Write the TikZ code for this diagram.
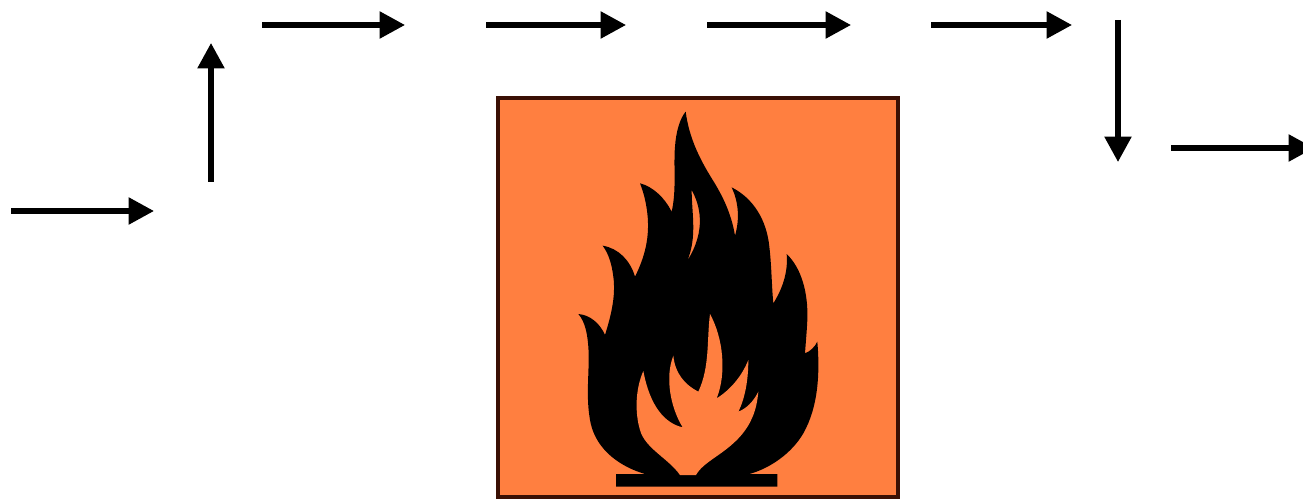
\documentclass[tikz,border=0pt]{standalone}
\usepackage{tikz}
\usetikzlibrary{arrows.meta}
\definecolor{signorange}{RGB}{255,127,64}
\definecolor{signedge}{RGB}{58,16,4}
\tikzset{flowarrow/.style={line width=3.9pt,-{Triangle[length=19pt,width=19.5pt]}}}

\begin{document}
\begin{tikzpicture}[x=0.75pt,y=-0.75pt]
\useasboundingbox (0,0) rectangle (1303,499);
\coordinate (in1) at (11,211);
\coordinate (out1) at (154,211);
\coordinate (in2) at (211,182);
\coordinate (out2) at (211,43);
\coordinate (in3) at (262,25);
\coordinate (out3) at (405,25);
\coordinate (in4) at (486,25);
\coordinate (out4) at (626,25);
\coordinate (in5) at (707,25);
\coordinate (out5) at (851,25);
\coordinate (in6) at (931,25);
\coordinate (out6) at (1072,25);
\coordinate (in7) at (1118,20);
\coordinate (out7) at (1118,162);
\coordinate (in8) at (1171,148);
\coordinate (out8) at (1314,148);
\draw [flowarrow] (in1) -- (out1);
\draw [flowarrow] (in2) -- (out2);
\draw [flowarrow] (in3) -- (out3);
\draw [flowarrow] (in4) -- (out4);
\draw [flowarrow] (in5) -- (out5);
\draw [flowarrow] (in6) -- (out6);
\draw [flowarrow] (in7) -- (out7);
\draw [flowarrow] (in8) -- (out8);
\draw [line width=3pt,signedge,fill=signorange] (498,98) rectangle (898,497);
\begin{scope}[shift={(490,90)},x=0.25pt,y=-0.25pt]
\fill [black,even odd rule] (587,65)
  .. controls (597,140) and (625,200) .. (665,265)
  .. controls (700,320) and (725,375) .. (735,437)
  .. controls (750,385) and (745,335) .. (725,292)
  .. controls (790,325) and (830,390) .. (838,470)
  .. controls (845,530) and (845,590) .. (850,640)
  .. controls (875,600) and (895,550) .. (890,492)
  .. controls (935,535) and (955,610) .. (952,690)
  .. controls (950,730) and (947,760) .. (945,790)
  .. controls (960,785) and (975,770) .. (982,755)
  .. controls (990,850) and (985,950) .. (940,1030)
  .. controls (905,1090) and (840,1135) .. (778,1152)
  -- (862,1152) -- (862,1190) -- (378,1190) -- (378,1152) -- (465,1152)
  .. controls (390,1130) and (320,1080) .. (302,1000)
  .. controls (285,920) and (300,840) .. (295,770)
  .. controls (292,730) and (285,695) .. (265,672)
  .. controls (300,675) and (330,700) .. (345,735)
  .. controls (362,680) and (378,620) .. (370,560)
  .. controls (365,520) and (355,490) .. (338,467)
  .. controls (385,475) and (420,510) .. (435,560)
  .. controls (465,500) and (480,440) .. (472,370)
  .. controls (468,335) and (460,305) .. (450,280)
  .. controls (490,290) and (525,325) .. (545,365)
  .. controls (560,300) and (550,230) .. (555,170)
  .. controls (558,125) and (570,85) .. (587,65) -- cycle
  (605,300)
  .. controls (630,345) and (650,420) .. (592,512)
  .. controls (622,440) and (605,370) .. (605,300) -- cycle;
\fill [signorange] (570,1155)
  -- (618,1155)
  .. controls (640,1115) and (700,1095) .. (750,1040)
  .. controls (785,1000) and (800,960) .. (805,905)
  .. controls (790,935) and (770,955) .. (745,965)
  .. controls (765,925) and (775,870) .. (775,810)
  .. controls (755,860) and (720,900) .. (680,925)
  .. controls (710,850) and (700,745) .. (660,672)
  .. controls (650,750) and (660,830) .. (625,905)
  .. controls (585,885) and (555,850) .. (550,797)
  .. controls (525,860) and (540,950) .. (578,1012)
  .. controls (525,1000) and (480,950) .. (460,843)
  .. controls (435,900) and (435,970) .. (450,1020)
  .. controls (465,1075) and (535,1105) .. (570,1155) -- cycle;
\end{scope}
\end{tikzpicture}
\end{document}
